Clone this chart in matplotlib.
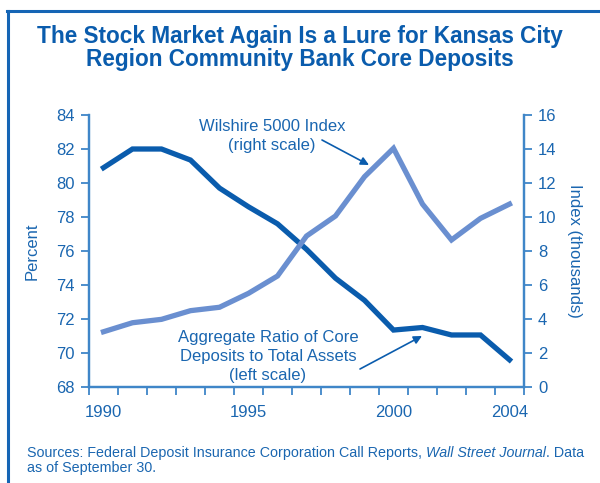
import matplotlib
matplotlib.use("Agg")
import matplotlib.pyplot as plt
from matplotlib.lines import Line2D

plt.rcParams['font.family'] = ['Liberation Sans', 'DejaVu Sans']

years = list(range(1990, 2005))
core_ratio = [80.9, 82.0, 82.0, 81.35, 79.7, 78.6, 77.6, 76.1, 74.4, 73.1, 71.35, 71.5, 71.06, 71.06, 69.6]
wilshire = [3.25, 3.78, 3.98, 4.49, 4.69, 5.51, 6.53, 8.88, 10.06, 12.37, 14.04, 10.76, 8.65, 9.92, 10.76]
year_labels = [1990, 1995, 2000, 2004]
left_ticks = list(range(68, 85, 2))
right_ticks = list(range(0, 17, 2))

TXT = "#1a66b0"
SPINE = "#3f86c8"
DARK = "#0a5cad"
LIGHT = "#6a8fd0"

W, H = 600, 483
fig = plt.figure(figsize=(6, 4.83), dpi=100)
# frame (left and top edges)
fig.add_artist(Line2D([8/W, 8/W], [0, 1 - 10.5/H], transform=fig.transFigure, color="#1565b5", linewidth=2.2))
fig.add_artist(Line2D([7/W, 1.0], [1 - 10.5/H, 1 - 10.5/H], transform=fig.transFigure, color="#1565b5", linewidth=2.2))

ax = fig.add_axes([89/W, 96/H, 435/W, 272/H])
ax2 = ax.twinx()

ax.plot(years, core_ratio, color=DARK, linewidth=3.8, solid_joinstyle='miter', zorder=3)
ax2.plot(years, wilshire, color=LIGHT, linewidth=3.8, solid_joinstyle='miter', zorder=3)

ax.set_xlim(1989.5, 2004.5)
ax.set_ylim(68, 84)
ax2.set_ylim(0, 16)
ax.set_yticks(left_ticks)
ax2.set_yticks(right_ticks)
ax.set_xticks([y + 0.5 for y in range(1989, 2005)])
ax.set_xticklabels([])
ax.set_xticks(year_labels, minor=True)
ax.set_xticklabels([str(y) for y in year_labels], minor=True)
ax.tick_params(axis='x', which='major', length=6, width=1.3, color=SPINE, direction='out')
ax.tick_params(axis='x', which='minor', length=0, labelsize=12, labelcolor=TXT, pad=13)
ax.tick_params(axis='y', length=6, width=1.3, color=SPINE, labelsize=12, labelcolor=TXT, pad=4)
ax2.tick_params(axis='y', length=6, width=1.3, color=SPINE, labelsize=12, labelcolor=TXT, pad=4)

for a in (ax, ax2):
    a.spines['top'].set_visible(False)
    for s in ('left', 'right', 'bottom'):
        a.spines[s].set_color(SPINE)
        a.spines[s].set_linewidth(1.6)
    a.patch.set_visible(False)

ax.set_ylabel("Percent", color=TXT, fontsize=12, labelpad=12)
ax2.set_ylabel("Index (thousands)", color=TXT, fontsize=12, rotation=270, labelpad=18)

fig.text(0.5, 1 - 48/H, "The Stock Market Again Is a Lure for Kansas City\nRegion Community Bank Core Deposits",
         ha='center', va='center', fontsize=16.3, fontweight='bold', color=DARK, linespacing=1.05)

def px_to_data_x(px):
    return 1989.5 + (px - 89) / 29.0

def px_to_left(py):
    return 68 + (387 - py) / 17.0

def px_to_right(py):
    return (387 - py) / 17.0

ax2.text(px_to_data_x(272), px_to_right(136), "Wilshire 5000 Index\n(right scale)",
         ha='center', va='center', fontsize=12, color=TXT, linespacing=1.35, multialignment='center')
ax2.annotate("", xy=(px_to_data_x(369), px_to_right(165)), xytext=(px_to_data_x(322), px_to_right(140)),
             arrowprops=dict(arrowstyle='-|>', color=DARK, lw=1.2, shrinkA=0, shrinkB=0, mutation_scale=12))

ax.text(px_to_data_x(268), px_to_left(356.5), "Aggregate Ratio of Core\nDeposits to Total Assets\n(left scale)",
        ha='center', va='center', fontsize=12, color=TXT, linespacing=1.35, multialignment='center')
ax.annotate("", xy=(px_to_data_x(422), px_to_left(336)), xytext=(px_to_data_x(360), px_to_left(369)),
            arrowprops=dict(arrowstyle='-|>', color=DARK, lw=1.2, shrinkA=0, shrinkB=0, mutation_scale=12))

# footer with italic part
fig.canvas.draw()
r = fig.canvas.get_renderer()
x0, y1 = 27/W, 1 - 453/H
fs = 10.3
t1 = fig.text(x0, y1, "Sources: Federal Deposit Insurance Corporation Call Reports, ", fontsize=fs, color=TXT, va='center')
bb = t1.get_window_extent(r)
t2 = fig.text(bb.x1/W, y1, "Wall Street Journal", fontsize=fs, color=TXT, va='center', style='italic')
bb2 = t2.get_window_extent(r)
fig.text(bb2.x1/W, y1, ". Data", fontsize=fs, color=TXT, va='center')
fig.text(x0, 1 - 468/H, "as of September 30.", fontsize=fs, color=TXT, va='center')

fig.savefig("out.png", dpi=100)
